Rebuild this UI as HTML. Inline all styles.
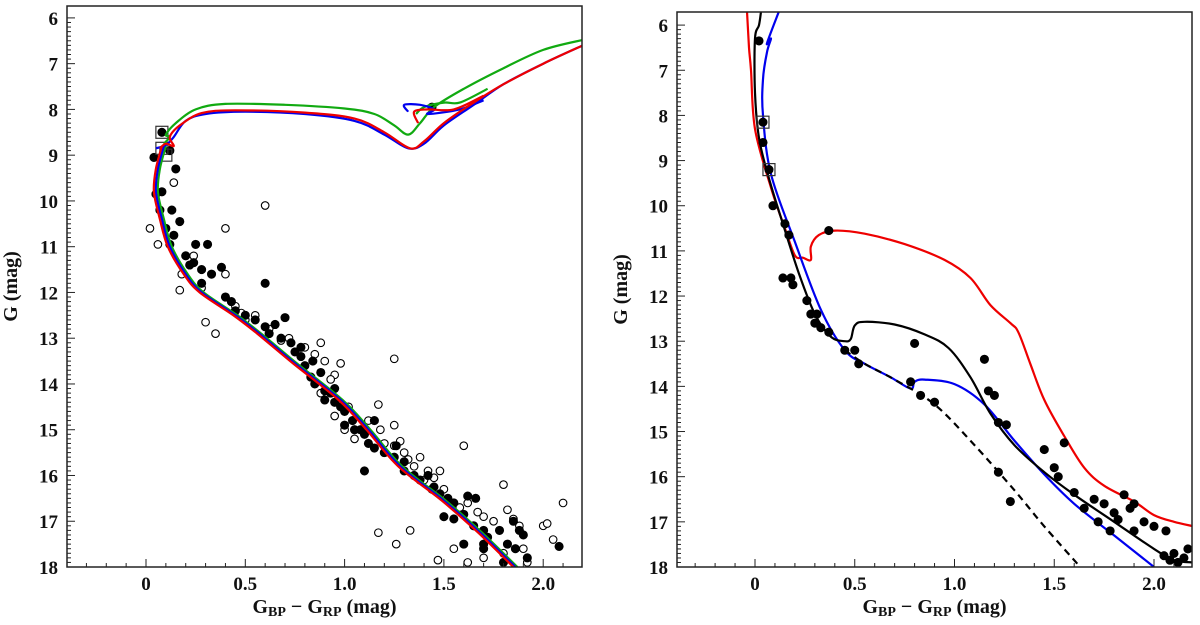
<!DOCTYPE html>
<html><head><meta charset="utf-8"><style>
body{margin:0;background:#fff}
svg{display:block}
text{font-family:"Liberation Serif",serif;font-weight:bold;fill:#111}
</style></head><body>
<svg id="c" width="1200" height="625" viewBox="0 0 1200 625"></svg>
<script>
// ---- data ----
const xTicks=[0,0.5,1.0,1.5,2.0];
const xTickLabels=["0","0.5","1.0","1.5","2.0"];
const yTicks=[6,7,8,9,10,11,12,13,14,15,16,17,18];
// Left panel isochrones
const L_ms=[[0.09,8.8],[0.06,9.3],[0.05,9.8],[0.08,10.4],[0.12,11.0],[0.2,11.6],[0.28,12.0],[0.45,12.5],[0.57,12.9],[0.75,13.55],[0.98,14.35],[1.12,15.0],[1.28,15.8],[1.5,16.55],[1.68,17.24],[1.86,18.0]];
const L_green=[[0.09,8.75],[0.12,8.6],[0.1,8.55],[0.15,8.3],[0.25,8.0],[0.4,7.88],[0.7,7.9],[1.0,7.98],[1.15,8.1],[1.25,8.35],[1.32,8.55],[1.38,8.3],[1.45,7.95],[1.6,7.55],[1.8,7.1],[2.0,6.7],[2.2,6.48]];
const L_green_loop=[[1.36,8.1],[1.4,7.95],[1.5,7.85],[1.58,7.85],[1.72,7.55]];
const L_red=[[0.07,8.85],[0.1,8.75],[0.14,8.8],[0.12,8.6],[0.17,8.35],[0.28,8.08],[0.45,8.02],[0.8,8.07],[1.05,8.2],[1.2,8.5],[1.33,8.85],[1.4,8.7],[1.5,8.3],[1.65,7.85],[1.8,7.45],[2.0,7.0],[2.2,6.6]];
const L_red_loop=[[1.37,8.3],[1.35,8.05],[1.42,8.0],[1.55,8.0],[1.7,7.7]];
const L_blue=[[0.05,8.85],[0.1,8.78],[0.14,8.6],[0.2,8.25],[0.3,8.1],[0.5,8.05],[0.8,8.1],[1.05,8.25],[1.2,8.55],[1.32,8.85],[1.4,8.75],[1.5,8.35],[1.65,7.9],[1.8,7.45],[2.0,7.0],[2.2,6.6]];
const L_blue_loop=[[1.32,8.05],[1.3,7.9],[1.38,7.9],[1.45,8.0],[1.42,8.1],[1.58,8.0],[1.7,7.8]];
const L_filled=[[0.08,8.5],[0.04,9.05],[0.12,8.9],[0.15,9.3],[0.05,9.85],[0.08,9.8],[0.07,10.2],[0.13,10.2],[0.1,10.6],[0.17,10.45],[0.14,10.75],[0.12,10.95],[0.25,10.95],[0.31,10.95],[0.2,11.2],[0.22,11.4],[0.28,11.5],[0.24,11.35],[0.33,11.6],[0.38,11.45],[0.28,11.8],[0.6,11.8],[0.4,12.1],[0.43,12.2],[0.45,12.4],[0.5,12.5],[0.55,12.6],[0.6,12.75],[0.7,12.55],[0.62,12.9],[0.68,13.0],[0.73,13.1],[0.75,13.3],[0.78,13.4],[0.8,13.6],[0.84,13.5],[0.88,13.75],[0.83,13.85],[0.85,14.0],[0.9,14.15],[0.93,14.2],[0.95,14.4],[0.98,14.5],[1.0,14.6],[1.04,14.8],[1.0,14.9],[1.08,15.0],[1.1,15.1],[1.15,14.8],[1.12,15.3],[1.15,15.4],[1.2,15.5],[1.25,15.6],[1.3,15.7],[1.26,15.35],[1.3,15.9],[1.35,16.0],[1.38,16.1],[1.42,16.0],[1.44,16.3],[1.48,16.4],[1.52,16.5],[1.55,16.6],[1.6,16.85],[1.62,16.45],[1.66,16.5],[1.5,16.9],[1.55,16.95],[1.65,17.1],[1.7,17.2],[1.72,17.35],[1.78,17.2],[1.82,17.5],[1.85,17.0],[1.88,17.2],[1.9,17.3],[1.92,17.8],[1.86,17.6],[1.6,17.5],[1.7,17.5],[2.08,17.55],[0.9,14.35],[1.1,15.9],[1.45,16.25],[1.44,7.95],[0.95,14.1],[1.05,15.0],[0.65,12.7],[0.78,13.2],[1.7,17.6],[1.8,17.9]];
const L_open=[[0.02,10.6],[0.06,10.95],[0.14,9.6],[0.6,10.1],[0.4,10.6],[0.18,11.6],[0.4,11.6],[0.24,11.2],[0.17,11.95],[0.28,11.9],[0.3,12.65],[0.45,12.3],[0.5,12.6],[0.55,12.5],[0.62,12.8],[0.65,12.7],[0.68,13.05],[0.72,13.0],[0.8,13.2],[0.85,13.35],[0.88,13.1],[0.9,13.5],[0.95,13.8],[0.98,13.55],[0.88,14.2],[0.95,14.7],[1.02,14.5],[1.0,15.0],[1.05,15.2],[1.12,14.8],[1.18,15.0],[1.2,15.3],[1.25,13.45],[1.17,14.45],[1.25,14.9],[1.25,15.35],[1.3,15.5],[1.32,15.65],[1.35,15.8],[1.38,15.6],[1.4,16.1],[1.42,15.9],[1.45,16.05],[1.48,15.9],[1.5,16.3],[1.55,16.6],[1.6,15.35],[1.58,16.7],[1.62,16.6],[1.67,16.8],[1.7,16.9],[1.75,17.0],[1.8,16.2],[1.82,16.75],[1.85,16.95],[1.88,17.1],[1.9,17.6],[2.0,17.1],[2.02,17.05],[2.1,16.6],[2.05,17.4],[1.17,17.25],[1.26,17.5],[1.33,17.2],[1.47,17.85],[1.55,17.6],[1.62,17.9],[1.7,17.8],[1.8,17.7],[1.92,17.9],[0.35,12.9],[0.48,12.45],[0.93,13.9],[1.28,15.25]];
const L_boxes=[[0.08,8.5],[0.08,8.85],[0.1,9.0]];
// Right panel
const R_black=[[0.03,5.7],[0.02,6.0],[0.0,6.3],[0.0,7.5],[0.02,8.5],[0.07,9.4],[0.14,10.4],[0.22,11.5],[0.3,12.4],[0.38,12.9],[0.45,13.0],[0.48,12.95],[0.5,12.65],[0.55,12.57],[0.7,12.63],[0.85,12.85],[0.97,13.15],[1.08,13.8],[1.18,14.6],[1.3,15.3],[1.45,15.9],[1.6,16.4],[1.8,17.0],[2.0,17.6],[2.1,17.85],[2.2,17.9]];
const R_dash=[[0.45,13.2],[0.55,13.5],[0.7,13.85],[0.9,14.4],[1.1,15.3],[1.3,16.3],[1.45,17.1],[1.6,17.85],[1.63,18.0]];
const R_blue=[[0.12,5.7],[0.06,6.4],[0.08,6.3],[0.06,6.6],[0.04,7.2],[0.04,8.0],[0.08,9.3],[0.2,10.8],[0.33,12.3],[0.45,13.2],[0.55,13.5],[0.68,13.8],[0.78,14.05],[0.8,13.9],[0.85,13.85],[1.0,13.95],[1.15,14.4],[1.3,15.2],[1.45,15.95],[1.6,16.6],[1.8,17.3],[2.0,18.0]];
const R_red=[[-0.04,5.7],[-0.03,6.5],[-0.02,7.0],[0.0,8.3],[0.08,9.6],[0.15,10.5],[0.2,11.1],[0.24,11.15],[0.28,11.2],[0.28,10.9],[0.32,10.65],[0.4,10.55],[0.55,10.62],[0.75,10.85],[0.95,11.2],[1.08,11.6],[1.18,12.2],[1.28,12.6],[1.32,12.8],[1.38,13.5],[1.45,14.3],[1.55,15.1],[1.65,15.8],[1.75,16.2],[1.9,16.55],[2.0,16.85],[2.1,17.0],[2.2,17.1]];
const R_filled=[[0.02,6.35],[0.04,8.15],[0.04,8.6],[0.07,9.2],[0.09,10.0],[0.15,10.4],[0.17,10.65],[0.37,10.55],[0.14,11.6],[0.18,11.6],[0.19,11.75],[0.26,12.1],[0.28,12.4],[0.31,12.4],[0.3,12.6],[0.33,12.7],[0.37,12.8],[0.45,13.2],[0.5,13.2],[0.52,13.5],[0.8,13.05],[0.78,13.9],[0.83,14.2],[0.9,14.35],[1.15,13.4],[1.17,14.1],[1.2,14.2],[1.22,14.8],[1.26,14.85],[1.22,15.9],[1.28,16.55],[1.45,15.4],[1.5,15.8],[1.52,16.0],[1.55,15.25],[1.6,16.35],[1.65,16.7],[1.7,16.5],[1.75,16.6],[1.8,16.8],[1.85,16.4],[1.9,16.6],[1.95,17.0],[2.0,17.1],[1.72,17.0],[1.78,17.2],[1.9,17.2],[2.05,17.75],[2.1,17.7],[2.15,17.8],[2.12,17.9],[2.17,17.6],[2.06,17.2],[1.82,16.95],[1.88,16.7],[2.08,17.85]];
const R_boxes=[[0.04,8.15],[0.07,9.2]];

const svg=document.getElementById('c');
const NS='http://www.w3.org/2000/svg';
function mk(tag,attrs,parent){const e=document.createElementNS(NS,tag);for(const k in attrs)e.setAttribute(k,attrs[k]);(parent||svg).appendChild(e);return e;}

function panel(id,x0,x1,y0,y1,xAt0,pxPerMag,yMin,yMax,drawFn){
  const g=mk('g',{});
  
  
  const xs=c=>xAt0+c*pxPerMag;
  const ys=m=>y0+(m-yMin)/(yMax-yMin)*(y1-y0);
  const clip=mk('clipPath',{id:id+'-clip'},g);
  mk('rect',{x:x0,y:y0,width:x1-x0,height:y1-y0},clip);
  const plot=mk('g',{'clip-path':'url(#'+id+'-clip)'},g);
  
  
  drawFn(plot,xs,ys);
  const fr=mk('rect',{x:x0,y:y0,width:x1-x0,height:y1-y0,fill:'none',stroke:'#222','stroke-width':1.5},g);
  
  
  for(let c=-0.3;c<=2.21;c+=0.1){const cc=Math.round(c*10)/10;const X=xs(cc);if(X<x0||X>x1)continue;
    const major=Math.abs(cc*2-Math.round(cc*2))<1e-6;
    mk('line',{x1:X,x2:X,y1:y1,y2:y1-(major?8:4),stroke:'#222','stroke-width':1},g);}
  xTicks.forEach((t,i)=>{const tl=mk('text',{x:xs(t),y:y1+23,'text-anchor':'middle','font-size':19},g);tl.textContent=xTickLabels[i];
    
    });
  for(let m=6;m<=18.001;m+=0.1){const mm=Math.round(m*10)/10;const Y=ys(mm);const major=Math.abs(mm-Math.round(mm))<1e-6;
    mk('line',{x1:x0,x2:x0+(major?8:4),y1:Y,y2:Y,stroke:'#222','stroke-width':1},g);}
  yTicks.forEach(t=>{const tl=mk('text',{x:x0-9,y:ys(t)+7,'text-anchor':'end','font-size':19},g);tl.textContent=String(t);
    
    });
  const xt=mk('text',{x:(x0+x1)/2,y:y1+46,'text-anchor':'middle','font-size':20},g);
  
  
  xt.innerHTML='G<tspan font-size="14" dy="3">BP</tspan><tspan dy="-3"> − G</tspan><tspan font-size="14" dy="3">RP</tspan><tspan dy="-3"> (mag)</tspan>';
  const yt=mk('text',{x:0,y:0,'text-anchor':'middle','font-size':20,transform:`translate(${x0-50},${(y0+y1)/2}) rotate(-90)`},g);
  
  
  yt.textContent='G (mag)';
}
function smoothPath(P){
  let d='M'+P[0][0].toFixed(1)+','+P[0][1].toFixed(1);
  for(let i=0;i<P.length-1;i++){
    const p0=P[i-1]||P[i],p1=P[i],p2=P[i+1],p3=P[i+2]||P[i+1];
    const c1=[p1[0]+(p2[0]-p0[0])/6,p1[1]+(p2[1]-p0[1])/6];
    const c2=[p2[0]-(p3[0]-p1[0])/6,p2[1]-(p3[1]-p1[1])/6];
    d+=' C'+c1[0].toFixed(1)+','+c1[1].toFixed(1)+' '+c2[0].toFixed(1)+','+c2[1].toFixed(1)+' '+p2[0].toFixed(1)+','+p2[1].toFixed(1);
  }
  return d;
}
function line(p,pts,xs,ys,color,name,dash){
  const P=pts.map(q=>[xs(q[0]),ys(q[1])]);
  const e=mk('path',{d:smoothPath(P),fill:'none',stroke:color,'stroke-width':2.2,'stroke-linejoin':'round','stroke-dasharray':dash||'none'},p);
  
  
}
function dots(p,pts,xs,ys,filled,name){
  pts.forEach(q=>{const e=mk('circle',{cx:xs(q[0]),cy:ys(q[1]),r:filled?4.0:3.8,fill:filled?'#000':'#fff',stroke:'#000','stroke-width':1.1},p);
    
    });
}
function boxes(p,pts,xs,ys){
  pts.forEach(q=>{const e=mk('rect',{x:xs(q[0])-6,y:ys(q[1])-6,width:12,height:12,fill:'none',stroke:'#333','stroke-width':1.2},p);
    
    });
}

panel('left-panel',67,582,6,567,146,198.6,5.74,18,(p,xs,ys)=>{
  dots(p,L_open,xs,ys,false,'open-star-point');
  dots(p,L_filled,xs,ys,true,'member-star-point');
  boxes(p,L_boxes,xs,ys);
  line(p,L_green,xs,ys,'#11aa11','isochrone-green');
  line(p,L_green_loop,xs,ys,'#11aa11','isochrone-green-loop');
  line(p,L_ms.map(q=>[q[0]+0.01,q[1]]),xs,ys,'#11aa11','isochrone-green-ms');
  line(p,L_blue,xs,ys,'#0000ee','isochrone-blue');
  line(p,L_blue_loop,xs,ys,'#0000ee','isochrone-blue-loop');
  line(p,L_ms,xs,ys,'#0000ee','isochrone-blue-ms');
  line(p,L_red,xs,ys,'#ee0000','isochrone-red');
  line(p,L_red_loop,xs,ys,'#ee0000','isochrone-red-loop');
  line(p,L_ms.map(q=>[q[0]-0.01,q[1]]),xs,ys,'#ee0000','isochrone-red-ms');
});
panel('right-panel',677,1192,12,567,755,199.5,5.71,18,(p,xs,ys)=>{
  line(p,R_red,xs,ys,'#ee0000','isochrone-red');
  line(p,R_blue,xs,ys,'#0000ee','isochrone-blue');
  line(p,R_black,xs,ys,'#000','isochrone-black');
  line(p,R_dash,xs,ys,'#000','isochrone-black-dashed','7,5');
  dots(p,R_filled,xs,ys,true,'member-star-point');
  boxes(p,R_boxes,xs,ys);
});
</script>
</body></html>
